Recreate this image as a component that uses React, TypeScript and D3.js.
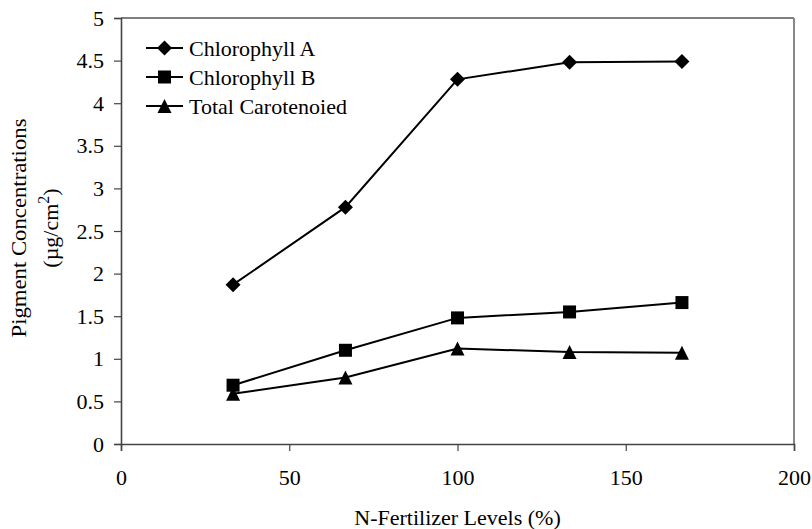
// @ts-nocheck
import React, {useRef, useEffect} from "react";
import * as d3 from "d3";

const levels = [33.3, 66.7, 100, 133.3, 166.7];
const chlorophyllA = [1.87, 2.78, 4.28, 4.48, 4.49];
const chlorophyllB = [0.69, 1.1, 1.48, 1.55, 1.66];
const carotenoid = [0.59, 0.78, 1.12, 1.08, 1.07];
const seriesNames = ["Chlorophyll A", "Chlorophyll B", "Total Carotenoied"];
const xTicks = [0, 50, 100, 150, 200];
const yTicks = [0, 0.5, 1, 1.5, 2, 2.5, 3, 3.5, 4, 4.5, 5];

const FONT = "'Liberation Serif', 'Times New Roman', serif";

// Excel-style markers; size = half width in px
const diamond = {
  draw(ctx, r) {
    ctx.moveTo(0, -r);
    ctx.lineTo(r, 0);
    ctx.lineTo(0, r);
    ctx.lineTo(-r, 0);
    ctx.closePath();
  },
};
const square = {
  draw(ctx, r) {
    ctx.rect(-r, -r, 2 * r, 2 * r);
  },
};
const triangle = {
  draw(ctx, r) {
    ctx.moveTo(0, -r);
    ctx.lineTo(r, r);
    ctx.lineTo(-r, r);
    ctx.closePath();
  },
};
const markerShapes = [diamond, square, triangle];
const markerSizes = [7.5, 6.5, 7];

export default function App() {
  const svgRef = useRef<SVGSVGElement>(null);

  useEffect(() => {
    document.body.style.margin = "0";
    const W = 812;
    const H = 529;
    const margin = {top: 18, right: 18, bottom: 85, left: 121};
    const width = W - margin.left - margin.right;
    const height = H - margin.top - margin.bottom;

    const root = d3.select(svgRef.current).attr("width", W).attr("height", H);
    root.selectAll("*").remove();
    root.append("rect").attr("width", W).attr("height", H).attr("fill", "#fff");

    const g = root.append("g").attr("transform", `translate(${margin.left},${margin.top})`);

    const x = d3.scaleLinear().domain([0, 200]).range([0, width]);
    const y = d3.scaleLinear().domain([0, 5]).range([height, 0]);

    // frame: top black, right grey
    g.append("line").attr("x1", 0).attr("x2", width).attr("y1", 0).attr("y2", 0)
      .attr("stroke", "#000").attr("stroke-width", 1.2);
    g.append("line").attr("x1", width).attr("x2", width).attr("y1", 0).attr("y2", height)
      .attr("stroke", "#888").attr("stroke-width", 2);

    // axes
    const yAxis = g.append("g")
      .call(d3.axisLeft(y).tickValues(yTicks).tickSize(7).tickPadding(10).tickFormat(d3.format("")));
    yAxis.attr("font-family", FONT).attr("font-size", 22);
    yAxis.select(".domain").attr("stroke", "#444").attr("stroke-width", 1.6);
    yAxis.selectAll(".tick line").attr("stroke", "#444").attr("stroke-width", 1.2);
    yAxis.selectAll("text").attr("fill", "#000");

    const xAxis = g.append("g").attr("transform", `translate(0,${height})`)
      .call(d3.axisBottom(x).tickValues(xTicks).tickSize(7).tickPadding(18).tickFormat(d3.format("")));
    xAxis.attr("font-family", FONT).attr("font-size", 22);
    xAxis.select(".domain").attr("stroke", "#444").attr("stroke-width", 1.6);
    xAxis.selectAll(".tick line").attr("stroke", "#444").attr("stroke-width", 1.2);
    xAxis.selectAll("text").attr("fill", "#000");

    // axis titles
    g.append("text")
      .attr("x", width / 2)
      .attr("y", height + 81)
      .attr("text-anchor", "middle")
      .attr("font-family", FONT)
      .attr("font-size", 22)
      .text("N-Fertilizer Levels (%)");

    const yTitle = root.append("text")
      .attr("transform", `translate(0,228) rotate(-90)`)
      .attr("text-anchor", "middle")
      .attr("font-family", FONT)
      .attr("font-size", 22);
    yTitle.append("tspan").attr("x", 0).attr("y", 26)
      .attr("textLength", 219).attr("lengthAdjust", "spacingAndGlyphs")
      .text("Pigment Concentrations");
    const l2 = yTitle.append("tspan").attr("x", 0).attr("y", 58);
    l2.append("tspan").text("(µg/cm");
    l2.append("tspan").attr("dy", -9).attr("font-size", 16).text("2");
    l2.append("tspan").attr("dy", 9).text(")");

    // series
    const allSeries = [chlorophyllA, chlorophyllB, carotenoid];
    const line = d3.line().x((d) => x(d[0])).y((d) => y(d[1]));

    allSeries.forEach((vals, i) => {
      const pts = levels.map((lv, j) => [lv, vals[j]]);
      g.append("path").datum(pts).attr("d", line)
        .attr("fill", "none").attr("stroke", "#000").attr("stroke-width", 2);
      g.selectAll(`.m${i}`).data(pts).join("path")
        .attr("class", `m${i}`)
        .attr("transform", (d) => `translate(${x(d[0])},${y(d[1])})`)
        .attr("d", d3.symbol().type(markerShapes[i]).size(markerSizes[i]))
        .attr("fill", "#000");
    });

    // legend
    const legend = root.append("g").attr("transform", "translate(146,48)");
    seriesNames.forEach((name, i) => {
      const row = legend.append("g").attr("transform", `translate(0,${i * 29})`);
      row.append("line").attr("x1", 0).attr("x2", 37).attr("stroke", "#000").attr("stroke-width", 2);
      row.append("path").attr("transform", "translate(18.5,0)")
        .attr("d", d3.symbol().type(markerShapes[i]).size(markerSizes[i])).attr("fill", "#000");
      row.append("text").attr("x", 43).attr("dy", "0.35em")
        .attr("font-family", FONT).attr("font-size", 22).text(name);
    });
  }, []);

  return <svg ref={svgRef} style={{display: "block"}} />;
}
